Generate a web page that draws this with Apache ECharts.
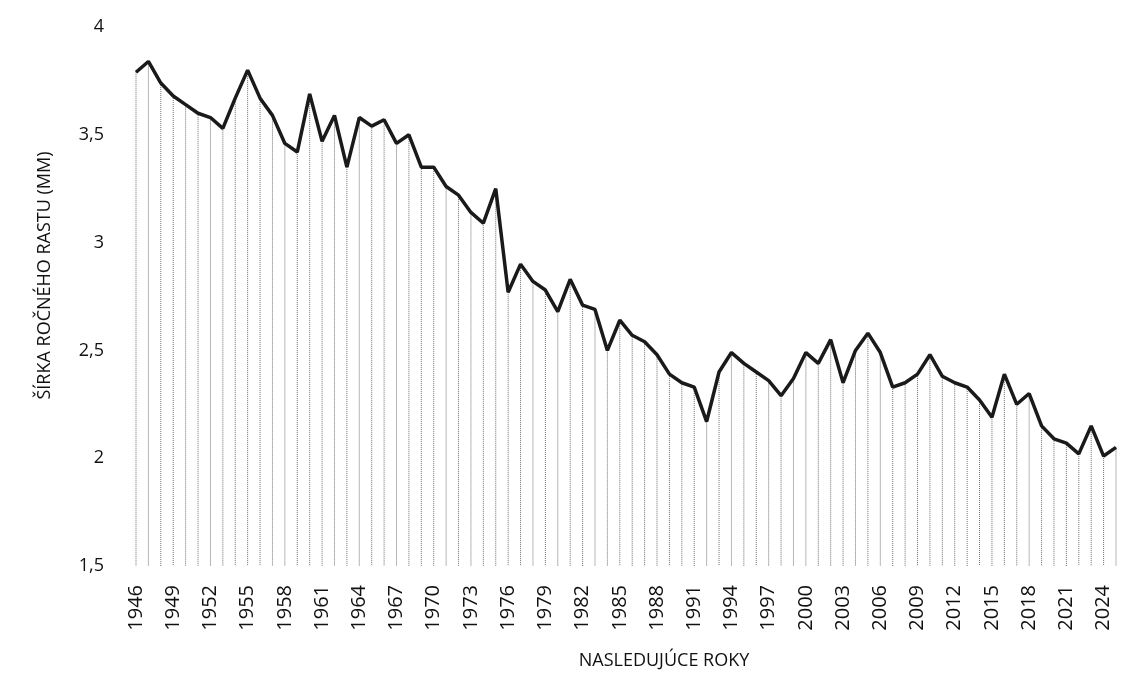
<!DOCTYPE html>
<html>
<head>
<meta charset="utf-8">
<style>
  html, body { margin: 0; padding: 0; background: #fff; }
  #chart { width: 1141px; height: 700px; }
</style>
<script src="https://cdn.jsdelivr.net/npm/echarts@6/dist/echarts.min.js"></script>
</head>
<body>
<div id="chart"></div>
<script>
// roky 1946 - 2025
const years = []
for (let y = 1946; y <= 2025; y++) years.push(String(y))

// šírka ročného rastu (mm), odčítané z grafu
const ringWidth = [
  3.79, 3.84, 3.74, 3.68, 3.64, 3.60, 3.58, 3.53, 3.67, 3.80,
  3.67, 3.59, 3.46, 3.42, 3.69, 3.47, 3.59, 3.35, 3.58, 3.54,
  3.57, 3.46, 3.50, 3.35, 3.35, 3.26, 3.22, 3.14, 3.09, 3.25,
  2.77, 2.90, 2.82, 2.78, 2.68, 2.83, 2.71, 2.69, 2.50, 2.64,
  2.57, 2.54, 2.48, 2.39, 2.35, 2.33, 2.17, 2.40, 2.49, 2.44,
  2.40, 2.36, 2.29, 2.37, 2.49, 2.44, 2.55, 2.35, 2.50, 2.58,
  2.49, 2.33, 2.35, 2.39, 2.48, 2.38, 2.35, 2.33, 2.27, 2.19,
  2.39, 2.25, 2.30, 2.15, 2.09, 2.07, 2.02, 2.15, 2.01, 2.05
]

const yTicks = { min: 1.5, max: 4, step: 0.5 }

const chart = echarts.init(document.getElementById('chart'))
const font = '"Open Sans", "DejaVu Sans", sans-serif'

chart.setOption({
  animation: false,
  backgroundColor: '#fff',
  grid: {
    left: 136,
    right: 25,
    top: 27,
    bottom: 134,
    containLabel: false
  },
  xAxis: {
    type: 'category',
    data: years,
    boundaryGap: false,
    axisLine: { show: false },
    axisTick: { show: false },
    axisLabel: {
      interval: 2,
      rotate: 90,
      margin: 19,
      fontFamily: font,
      fontSize: 20,
      color: '#111'
    },
    name: 'NASLEDUJÚCE ROKY',
    nameLocation: 'middle',
    nameGap: 86,
    nameTextStyle: {
      fontFamily: font,
      fontSize: 18,
      color: '#111',
      padding: [0, 0, 0, 76]
    }
  },
  yAxis: {
    type: 'value',
    min: yTicks.min,
    max: yTicks.max,
    interval: yTicks.step,
    splitLine: { show: false },
    axisLine: { show: false },
    axisTick: { show: false },
    axisLabel: {
      margin: 32,
      fontFamily: font,
      fontSize: 18,
      color: '#111',
      formatter: v => String(v).replace('.', ',')
    },
    name: 'ŠÍRKA ROČNÉHO RASTU (MM)',
    nameLocation: 'middle',
    nameGap: 82,
    nameRotate: 90,
    nameTextStyle: {
      fontFamily: font,
      fontSize: 18,
      color: '#111',
      padding: [0, 0, 0, 42]
    }
  },
  series: [
    {
      // zvislé bodkované čiary od bodu k osi
      type: 'custom',
      data: ringWidth.map((v, i) => [i, v]),
      renderItem(params, api) {
        const top = api.coord([api.value(0), api.value(1)])
        const bottom = api.coord([api.value(0), yTicks.min])
        return {
          type: 'line',
          shape: { x1: top[0], y1: top[1], x2: bottom[0], y2: bottom[1] },
          style: { stroke: '#6e6e6e', lineWidth: 1, lineDash: [1, 1] }
        }
      },
      z: 1
    },
    {
      type: 'line',
      data: ringWidth,
      symbol: 'none',
      smooth: false,
      lineStyle: { color: '#1a1a1a', width: 3.5 },
      z: 3
    }
  ]
})
</script>
</body>
</html>
